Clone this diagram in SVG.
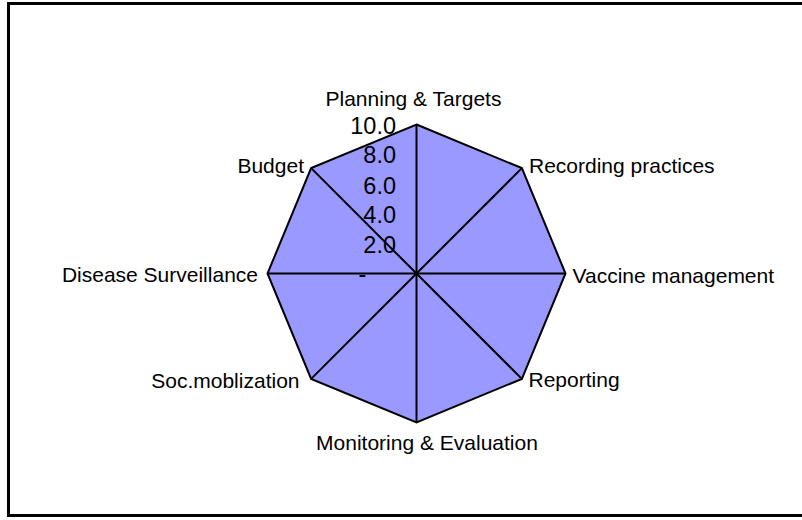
<svg xmlns="http://www.w3.org/2000/svg" width="802" height="520" viewBox="0 0 802 520">
<style>
.lbl{font-family:"Liberation Sans",Arial,sans-serif;font-size:21px;fill:#000}
.tick{font-family:"Liberation Sans",Arial,sans-serif;font-size:23.5px;fill:#000;text-anchor:end}
.ln{stroke:#000;stroke-width:2;fill:none}
</style>
<rect x="0" y="0" width="802" height="520" fill="#fff"/>
<rect x="8.5" y="3.5" width="800" height="512" fill="#fff" stroke="#000" stroke-width="3"/>
<g id="area">
<polygon points="416.5,124.5 521.86,168.14 565.5,273.5 521.86,378.86 416.5,422.5 311.14,378.86 267.5,273.5 311.14,168.14" fill="#9999FF" stroke="#000" stroke-width="2" stroke-linejoin="miter"/>
</g>
<g id="spokes">
<line class="ln" x1="416.5" y1="273.5" x2="416.5" y2="124.5"/>
<line class="ln" x1="416.5" y1="273.5" x2="521.86" y2="168.14"/>
<line class="ln" x1="416.5" y1="273.5" x2="565.5" y2="273.5"/>
<line class="ln" x1="416.5" y1="273.5" x2="521.86" y2="378.86"/>
<line class="ln" x1="416.5" y1="273.5" x2="416.5" y2="422.5"/>
<line class="ln" x1="416.5" y1="273.5" x2="311.14" y2="378.86"/>
<line class="ln" x1="416.5" y1="273.5" x2="267.5" y2="273.5"/>
<line class="ln" x1="416.5" y1="273.5" x2="311.14" y2="168.14"/>
</g>
<g id="ticks">
<text class="tick" x="396" y="133.5">10.0</text>
<text class="tick" x="396" y="163">8.0</text>
<text class="tick" x="396" y="193.5">6.0</text>
<text class="tick" x="396" y="223">4.0</text>
<text class="tick" x="396" y="252.5">2.0</text>
<text class="tick" x="358.5" y="282" style="text-anchor:start">-</text>
</g>
<g id="labels">
<text id="planning" class="lbl" x="325.5" y="106">Planning &amp; Targets</text>
<text id="recording" class="lbl" x="529" y="172.5">Recording practices</text>
<text id="vaccine" class="lbl" x="572.5" y="282.5">Vaccine management</text>
<text id="reporting" class="lbl" x="528.5" y="387">Reporting</text>
<text id="monitoring" class="lbl" x="427" y="450" text-anchor="middle">Monitoring &amp; Evaluation</text>
<text id="socmob" class="lbl" x="299.5" y="387.5" text-anchor="end">Soc.moblization</text>
<text id="disease" class="lbl" x="258" y="281.5" text-anchor="end">Disease Surveillance</text>
<text id="budget" class="lbl" x="304" y="172.5" text-anchor="end">Budget</text>
</g>
</svg>
